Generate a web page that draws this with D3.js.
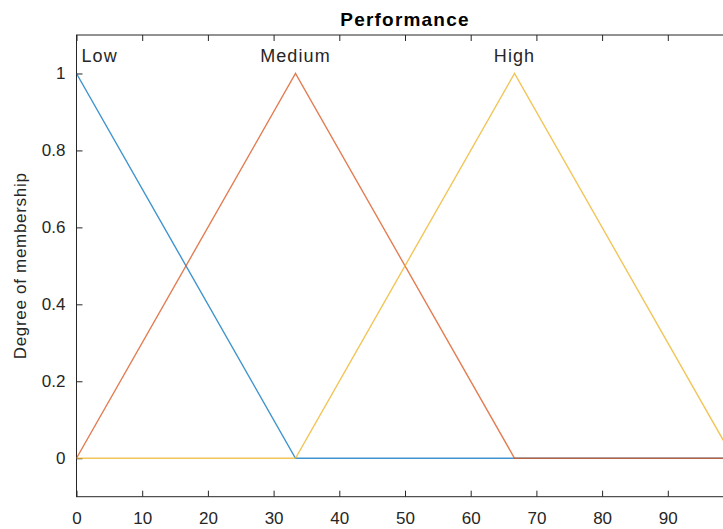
<!DOCTYPE html>
<html>
<head>
<meta charset="utf-8">
<script src="https://cdn.jsdelivr.net/npm/d3@7"></script>
<style>
  body { margin: 0; background: #fff; }
  text { font-family: "Liberation Sans", Arial, sans-serif; fill: #262626; }
</style>
</head>
<body>
<svg id="chart" width="723" height="529"></svg>
<script>
// membership functions sampled at their break points
const xPoints = [0, 33.33, 66.67, 100];
const lowValues = [1, 0, 0, 0];
const mediumValues = [0, 1, 0, 0];
const highValues = [0, 0, 1, 0];
const mfNames = ["Low", "Medium", "High"];
const mfPeaks = [0, 33.33, 66.67];
const xTicks = [0, 10, 20, 30, 40, 50, 60, 70, 80, 90];
const yTicks = [0, 0.2, 0.4, 0.6, 0.8, 1];

const svg = d3.select("#chart");
const plotLeft = 76.5, plotRight = 733.5, plotTop = 35, plotBottom = 496.7;

const x = d3.scaleLinear().domain([0, 100]).range([plotLeft, plotRight]);
const y = d3.scaleLinear().domain([-0.1, 1.1]).range([plotBottom, plotTop]);

const plot = svg.append("g");

// axes box
plot.append("rect")
  .attr("x", plotLeft).attr("y", plotTop)
  .attr("width", plotRight - plotLeft).attr("height", plotBottom - plotTop)
  .attr("fill", "none").attr("stroke", "#262626").attr("stroke-width", 1);

const fmt = d => String(+d.toFixed(1));

// bottom axis, ticks pointing inward
const xAxis = plot.append("g")
  .attr("transform", `translate(0,${plotBottom})`)
  .call(d3.axisBottom(x).tickValues(xTicks).tickSize(-6).tickPadding(15).tickFormat(fmt));
xAxis.select(".domain").remove();
xAxis.selectAll("line").attr("stroke", "#262626");
xAxis.selectAll("text").attr("font-size", 17).style("font-family", "Liberation Sans, Arial, sans-serif").attr("fill", "#262626");

// top ticks
plot.append("g")
  .attr("transform", `translate(0,${plotTop})`)
  .call(d3.axisTop(x).tickValues(xTicks).tickSize(-6).tickFormat(""))
  .call(g => g.select(".domain").remove())
  .selectAll("line").attr("stroke", "#262626");

// left axis
const yAxis = plot.append("g")
  .attr("transform", `translate(${plotLeft},0)`)
  .call(d3.axisLeft(y).tickValues(yTicks).tickSize(-6).tickPadding(11).tickFormat(fmt));
yAxis.select(".domain").remove();
yAxis.selectAll("line").attr("stroke", "#262626");
yAxis.selectAll("text").attr("font-size", 17).style("font-family", "Liberation Sans, Arial, sans-serif").attr("fill", "#262626");

// curves
const series = [
  { name: "Low", values: lowValues, color: "#0072BD" },
  { name: "Medium", values: mediumValues, color: "#D95319" },
  { name: "High", values: highValues, color: "#EDB120" }
];
const line = d3.line().x(d => x(d[0])).y(d => y(d[1]));

svg.append("clipPath").attr("id", "clip")
  .append("rect").attr("x", plotLeft).attr("y", plotTop)
  .attr("width", plotRight - plotLeft).attr("height", plotBottom - plotTop);

plot.append("g").attr("clip-path", "url(#clip)")
  .selectAll("path")
  .data(series)
  .join("path")
  .attr("d", s => line(xPoints.map((xv, i) => [xv, s.values[i]])))
  .attr("fill", "none")
  .attr("stroke", s => s.color)
  .attr("stroke-opacity", 0.75)
  .attr("stroke-width", 1.4);

// mf labels above peaks
plot.selectAll(".mflabel")
  .data(mfNames)
  .join("text")
  .attr("class", "mflabel")
  .attr("x", (d, i) => i === 0 ? plotLeft + 5 : x(mfPeaks[i]))
  .attr("y", y(1) - 11)
  .attr("text-anchor", (d, i) => i === 0 ? "start" : "middle")
  .attr("font-size", 18)
  .attr("letter-spacing", 1.1)
  .text(d => d);

// title
svg.append("text")
  .attr("x", 405)
  .attr("y", 26)
  .attr("text-anchor", "middle")
  .attr("font-size", 19)
  .attr("font-weight", "bold")
  .attr("letter-spacing", 1.2)
  .style("fill", "#000")
  .text("Performance");

// y label
svg.append("text")
  .attr("transform", `translate(26,${(plotTop + plotBottom) / 2}) rotate(-90)`)
  .attr("text-anchor", "middle")
  .attr("font-size", 17)
  .attr("letter-spacing", 0.7)
  .text("Degree of membership");
</script>
</body>
</html>
